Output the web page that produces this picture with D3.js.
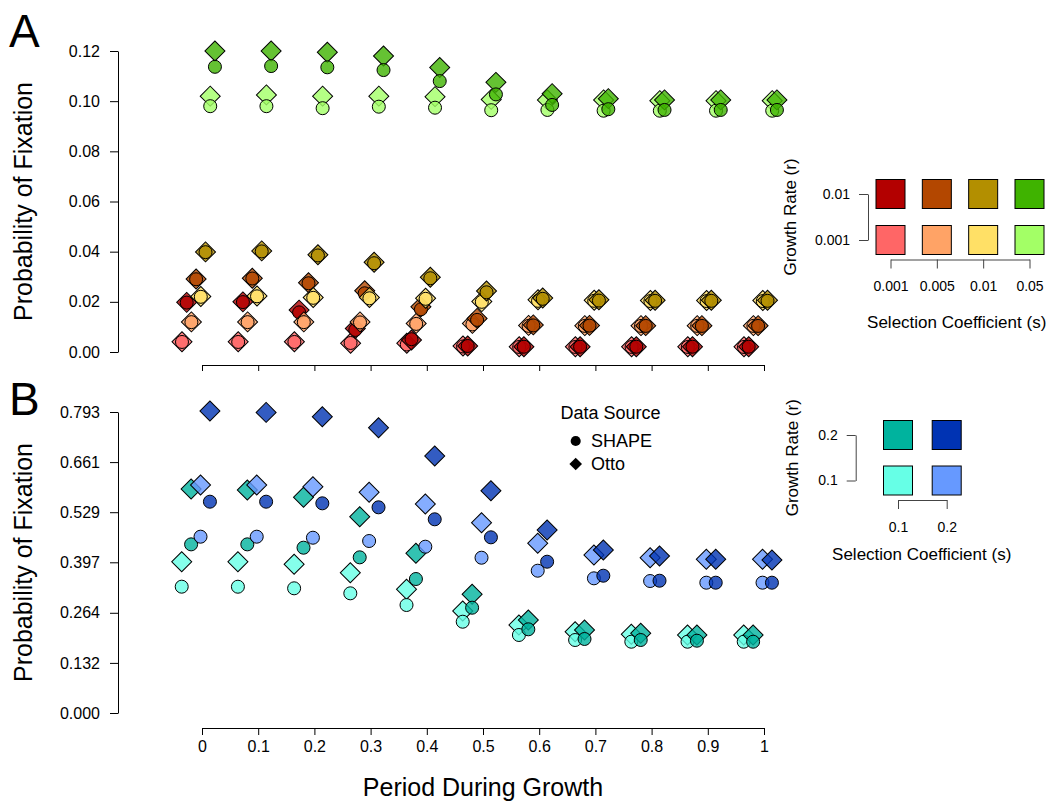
<!DOCTYPE html>
<html>
<head>
<meta charset="utf-8">
<script src="https://cdn.jsdelivr.net/npm/d3@7"></script>
<style>
  body { margin: 0; background: #ffffff; }
  svg { font-family: "Liberation Sans", Arial, sans-serif; }
</style>
</head>
<body>
<svg id="chart"></svg>
<script>
(function () {

    const width = 1050;
    const height = 805;
    const fontFamily = "'Liberation Sans', Arial, sans-serif";

    // x values shared by both panels
    const periods = [0, 0.1, 0.2, 0.3, 0.4, 0.5, 0.6, 0.7, 0.8, 0.9, 1];
    const periodLabels = ["0", "0.1", "0.2", "0.3", "0.4", "0.5", "0.6", "0.7", "0.8", "0.9", "1"];

    // ---- panel A ----
    const yTicksA = [0, 0.02, 0.04, 0.06, 0.08, 0.10, 0.12];
    const selectionA = ["0.001", "0.005", "0.01", "0.05"];
    const growthA = ["0.01", "0.001"];
    const seriesA = ["s0.001 r0.001", "s0.001 r0.01", "s0.005 r0.001", "s0.005 r0.01",
                     "s0.01 r0.001", "s0.01 r0.01", "s0.05 r0.001", "s0.05 r0.01"];
    const colorsA = ["#FF6666", "#B30000", "#FFA366", "#B34700",
                     "#FFE066", "#B38F00", "#A3FF66", "#3FB300"];

    const ottoA_s0001_r0001 = [0.0041, 0.0041, 0.0041, 0.0035, 0.0035, 0.0024, 0.0021, 0.0021, 0.0021, 0.0021, 0.0021];
    const shapeA_s0001_r0001 = [0.0040, 0.0040, 0.0040, 0.0036, 0.0030, 0.0022, 0.0020, 0.0020, 0.0020, 0.0020, 0.0020];
    const ottoA_s0001_r001 = [0.0198, 0.0200, 0.0167, 0.0094, 0.0048, 0.0024, 0.0021, 0.0021, 0.0021, 0.0021, 0.0021];
    const shapeA_s0001_r001 = [0.0197, 0.0199, 0.0158, 0.0088, 0.0051, 0.0024, 0.0021, 0.0021, 0.0021, 0.0021, 0.0021];
    const ottoA_s0005_r0001 = [0.0120, 0.0120, 0.0120, 0.0120, 0.0114, 0.0114, 0.0106, 0.0105, 0.0105, 0.0105, 0.0105];
    const shapeA_s0005_r0001 = [0.0119, 0.0119, 0.0119, 0.0118, 0.0112, 0.0110, 0.0104, 0.0104, 0.0104, 0.0104, 0.0104];
    const ottoA_s0005_r001 = [0.0291, 0.0294, 0.0276, 0.0244, 0.0180, 0.0134, 0.0108, 0.0106, 0.0105, 0.0105, 0.0105];
    const shapeA_s0005_r001 = [0.0290, 0.0293, 0.0274, 0.0234, 0.0170, 0.0128, 0.0106, 0.0105, 0.0104, 0.0104, 0.0104];
    const ottoA_s001_r0001 = [0.0221, 0.0223, 0.0217, 0.0217, 0.0214, 0.0201, 0.0208, 0.0206, 0.0205, 0.0205, 0.0205];
    const shapeA_s001_r0001 = [0.0220, 0.0222, 0.0216, 0.0214, 0.0212, 0.0200, 0.0204, 0.0204, 0.0203, 0.0203, 0.0203];
    const ottoA_s001_r001 = [0.0399, 0.0403, 0.0388, 0.0358, 0.0298, 0.0243, 0.0215, 0.0208, 0.0206, 0.0206, 0.0206];
    const shapeA_s001_r001 = [0.0398, 0.0401, 0.0385, 0.0354, 0.0294, 0.0238, 0.0212, 0.0205, 0.0204, 0.0204, 0.0204];
    const ottoA_s005_r0001 = [0.1020, 0.1025, 0.1020, 0.1020, 0.1018, 0.1007, 0.1005, 0.1005, 0.1002, 0.1002, 0.1002];
    const shapeA_s005_r0001 = [0.0980, 0.0980, 0.0972, 0.0978, 0.0974, 0.0964, 0.0965, 0.0962, 0.0962, 0.0962, 0.0962];
    const ottoA_s005_r001 = [0.1200, 0.1200, 0.1195, 0.1180, 0.1134, 0.1075, 0.1030, 0.1010, 0.1005, 0.1005, 0.1005];
    const shapeA_s005_r001 = [0.1137, 0.1140, 0.1135, 0.1124, 0.1080, 0.1027, 0.0985, 0.0968, 0.0965, 0.0965, 0.0965];

    const ottoA = [ottoA_s0001_r0001, ottoA_s0001_r001, ottoA_s0005_r0001, ottoA_s0005_r001,
                   ottoA_s001_r0001, ottoA_s001_r001, ottoA_s005_r0001, ottoA_s005_r001];
    const shapeA = [shapeA_s0001_r0001, shapeA_s0001_r001, shapeA_s0005_r0001, shapeA_s0005_r001,
                    shapeA_s001_r0001, shapeA_s001_r001, shapeA_s005_r0001, shapeA_s005_r001];

    // ---- panel B ----
    const yTicksB = [0, 0.132, 0.264, 0.397, 0.529, 0.661, 0.793];
    const yDomainB = [0, 0.793];
    const selectionB = ["0.1", "0.2"];
    const growthB = ["0.2", "0.1"];
    const seriesB = ["s0.1 r0.1", "s0.1 r0.2", "s0.2 r0.1", "s0.2 r0.2"];
    const colorsB = ["#66FFE6", "#00B39E", "#6699FF", "#0033B3"];

    const ottoB_s01_r01 = [0.3986, 0.3986, 0.3917, 0.3696, 0.3259, 0.2687, 0.2318, 0.2142, 0.2073, 0.2055, 0.2055];
    const shapeB_s01_r01 = [0.3328, 0.3327, 0.3285, 0.3153, 0.2845, 0.2405, 0.2055, 0.1923, 0.1878, 0.1878, 0.1878];
    const ottoB_s01_r02 = [0.5900, 0.5875, 0.5682, 0.5172, 0.4207, 0.3127, 0.2450, 0.2186, 0.2100, 0.2055, 0.2055];
    const shapeB_s01_r02 = [0.4443, 0.4443, 0.4355, 0.4101, 0.3530, 0.2774, 0.2205, 0.1950, 0.1923, 0.1905, 0.1878];
    const ottoB_s02_r01 = [0.6006, 0.6006, 0.5962, 0.5814, 0.5506, 0.5013, 0.4470, 0.4162, 0.4091, 0.4050, 0.4050];
    const shapeB_s02_r01 = [0.4645, 0.4645, 0.4618, 0.4531, 0.4381, 0.4091, 0.3749, 0.3548, 0.3477, 0.3433, 0.3433];
    const ottoB_s02_r02 = [0.7955, 0.7920, 0.7806, 0.7517, 0.6770, 0.5857, 0.4820, 0.4294, 0.4136, 0.4050, 0.4030];
    const shapeB_s02_r02 = [0.5567, 0.5567, 0.5524, 0.5419, 0.5103, 0.4628, 0.3986, 0.3617, 0.3485, 0.3433, 0.3433];

    const ottoB = [ottoB_s01_r01, ottoB_s01_r02, ottoB_s02_r01, ottoB_s02_r02];
    const shapeB = [shapeB_s01_r01, shapeB_s01_r02, shapeB_s02_r01, shapeB_s02_r02];

    const svg = d3.select("#chart")
        .attr("width", width)
        .attr("height", height)
        .style("background-color", "#ffffff");

    const x = d3.scaleLinear().domain([0, 1]).range([202, 764]);
    const yA = d3.scaleLinear().domain([0, 0.12]).range([352, 51]);
    const yB = d3.scaleLinear().domain(yDomainB).range([713, 412]);

    // small sideways offsets so the series at one period don't sit on top of each other
    const dodgeA = d3.scalePoint().domain(seriesA).range([-0.0356, 0.0230]);
    const dodgeB = d3.scalePoint().domain(seriesB).range([-0.0361, 0.0141]);

    const diamond = d3.symbol().type(d3.symbolSquare).size(200);
    const circle = d3.symbol().type(d3.symbolCircle).size(133);

    function styleAxis(g, size) {
        g.attr("font-family", fontFamily).attr("font-size", size);
        g.selectAll("text").attr("fill", "#000");
    }

    function drawPanel(series, colors, otto, shape, y, dodge) {
        const rows = series.map((id, i) => ({
            id: id,
            color: colors[i],
            otto: periods.map((p, j) => ({ p: p, v: otto[i][j] })),
            shape: periods.map((p, j) => ({ p: p, v: shape[i][j] }))
        }));

        const groups = svg.append("g").selectAll("g")
            .data(rows)
            .enter()
            .append("g");

        groups.selectAll("path.otto")
            .data(d => d.otto.map(o => ({ ...o, id: d.id, color: d.color })))
            .enter()
            .append("path")
            .attr("class", "otto")
            .attr("d", diamond)
            .attr("transform", d => `translate(${x(d.p + dodge(d.id))},${y(d.v)}) rotate(45)`)
            .attr("fill", d => d.color)
            .attr("fill-opacity", 0.8)
            .attr("stroke", "#000")
            .attr("stroke-width", 1);

        groups.selectAll("path.shape")
            .data(d => d.shape.map(o => ({ ...o, id: d.id, color: d.color })))
            .enter()
            .append("path")
            .attr("class", "shape")
            .attr("d", circle)
            .attr("transform", d => `translate(${x(d.p + dodge(d.id))},${y(d.v)})`)
            .attr("fill", d => d.color)
            .attr("fill-opacity", 0.8)
            .attr("stroke", "#000")
            .attr("stroke-width", 1);
    }

    // ---- axes ----
    svg.append("g")
        .attr("transform", "translate(118,0)")
        .call(d3.axisLeft(yA).tickValues(yTicksA).tickFormat(d3.format(".2f"))
            .tickSize(8).tickSizeOuter(0).tickPadding(10))
        .call(g => styleAxis(g, 16));

    svg.append("g")
        .attr("transform", "translate(0,365)")
        .call(d3.axisBottom(x).tickValues(periods).tickFormat("")
            .tickSize(6).tickSizeOuter(0))
        .call(g => styleAxis(g, 16));

    svg.append("g")
        .attr("transform", "translate(118,0)")
        .call(d3.axisLeft(yB).tickValues(yTicksB).tickFormat(d3.format(".3f"))
            .tickSize(8).tickSizeOuter(0).tickPadding(10))
        .call(g => styleAxis(g, 16));

    svg.append("g")
        .attr("transform", "translate(0,728)")
        .call(d3.axisBottom(x).tickValues(periods).tickFormat((d, i) => periodLabels[i])
            .tickSize(7).tickSizeOuter(0).tickPadding(6))
        .call(g => styleAxis(g, 16));

    // ---- points ----
    drawPanel(seriesA, colorsA, ottoA, shapeA, yA, dodgeA);
    drawPanel(seriesB, colorsB, ottoB, shapeB, yB, dodgeB);

    // ---- titles ----
    svg.append("text")
        .attr("transform", `translate(32,${(yA.range()[0] + yA.range()[1]) / 2}) rotate(-90)`)
        .attr("text-anchor", "middle")
        .attr("font-size", 25)
        .text("Probability of Fixation");

    svg.append("text")
        .attr("transform", `translate(32,${(yB.range()[0] + yB.range()[1]) / 2}) rotate(-90)`)
        .attr("text-anchor", "middle")
        .attr("font-size", 25)
        .text("Probability of Fixation");

    svg.append("text")
        .attr("x", 483)
        .attr("y", 796)
        .attr("text-anchor", "middle")
        .attr("font-size", 25)
        .text("Period During Growth");

    svg.append("text").attr("x", 9).attr("y", 47).attr("font-size", 46).text("A");
    svg.append("text").attr("x", 9).attr("y", 415).attr("font-size", 46).text("B");

    // ---- colour key legends ----
    function drawKey(cols, rowsLab, colors, colX, rowY, bracketX, bracketY, titleX, titleYBase, rTitleX) {
        const sx = d3.scalePoint().domain(cols).range(colX);
        const sy = d3.scalePoint().domain(rowsLab).range(rowY);
        const key = svg.append("g");
        const cells = [];
        cols.forEach((c, ci) => rowsLab.forEach((r, ri) => {
            // colours are listed low-r then high-r for each s
            cells.push({ c: c, r: r, color: colors[ci * 2 + (rowsLab.length - 1 - ri)] });
        }));
        key.selectAll("rect")
            .data(cells)
            .enter()
            .append("rect")
            .attr("x", d => sx(d.c) - 14.5)
            .attr("y", d => sy(d.r) - 14.5)
            .attr("width", 29)
            .attr("height", 29)
            .attr("fill", d => d.color)
            .attr("stroke", "#000")
            .attr("stroke-width", 1);

        key.append("g")
            .attr("transform", `translate(${bracketX},0)`)
            .call(d3.axisLeft(sy).tickSize(9).tickSizeOuter(0).tickPadding(9))
            .call(g => styleAxis(g, 14))
            .call(g => g.selectAll("path,line").attr("stroke", "#444"));

        key.append("g")
            .attr("transform", `translate(0,${bracketY})`)
            .call(d3.axisBottom(sx).tickSize(9).tickSizeOuter(0).tickPadding(13))
            .call(g => styleAxis(g, 14))
            .call(g => g.selectAll("path,line").attr("stroke", "#444"));

        key.append("text")
            .attr("x", titleX)
            .attr("y", titleYBase)
            .attr("text-anchor", "middle")
            .attr("font-size", 17)
            .text("Selection Coefficient (s)");

        key.append("text")
            .attr("transform", `translate(${rTitleX},${(rowY[0] + rowY[1]) / 2}) rotate(-90)`)
            .attr("text-anchor", "middle")
            .attr("font-size", 17)
            .text("Growth Rate (r)");
    }

    drawKey(selectionA, growthA, colorsA, [890.5, 1029.5], [194, 240], 868, 259.5, 956.7, 328, 796);
    drawKey(selectionB, growthB, colorsB, [898, 946.7], [435, 480.5], 855.7, 500, 921.7, 560, 798);

    // ---- data source legend ----
    const sources = ["SHAPE", "Otto"];
    const srcY = d3.scalePoint().domain(sources).range([441, 464]);
    const src = svg.append("g");
    src.append("text")
        .attr("x", 610.5)
        .attr("y", 419)
        .attr("text-anchor", "middle")
        .attr("font-size", 18)
        .text("Data Source");
    src.selectAll("path")
        .data(sources)
        .enter()
        .append("path")
        .attr("d", d => d === "SHAPE" ? d3.symbol().type(d3.symbolCircle).size(80)() : d3.symbol().type(d3.symbolSquare).size(80)())
        .attr("transform", d => `translate(575.7,${srcY(d)})` + (d === "Otto" ? " rotate(45)" : ""))
        .attr("fill", "#000");
    src.selectAll("text.lab")
        .data(sources)
        .enter()
        .append("text")
        .attr("class", "lab")
        .attr("x", 591)
        .attr("y", d => srcY(d))
        .attr("dy", "0.35em")
        .attr("font-size", 18)
        .text(d => d);

})();
</script>
</body>
</html>
